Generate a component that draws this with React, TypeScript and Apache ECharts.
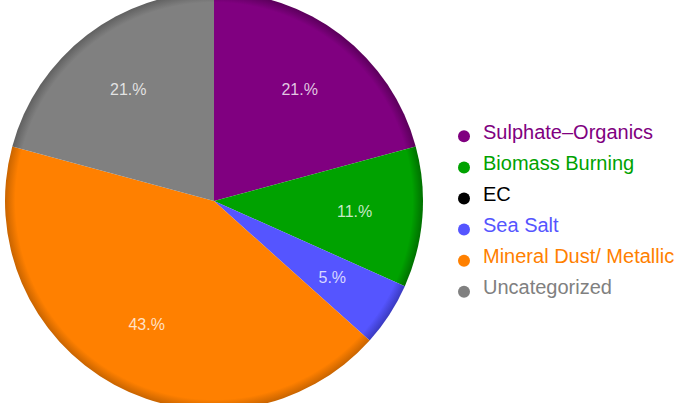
import React, { useEffect, useRef } from "react";
import * as echarts from "echarts";

const categories = [
  "Sulphate–Organics",
  "Biomass Burning",
  "EC",
  "Sea Salt",
  "Mineral Dust/ Metallic",
  "Uncategorized",
];
const values = [21, 11, 0, 5, 43, 21];
const colors = ["#800080", "#00a200", "#000000", "#5555ff", "#ff8000", "#808080"];
const edgeColors = ["#5a005a", "#007000", "#000000", "#3a3ac0", "#c86400", "#606060"];

const CX = 214;
const CY = 201;
const R = 209;

// circle (r=6, centre 6,15) inside a 20x21 box, so it sits lower than the text centre
const legendIcon =
  "path://M0,0L0,0M20,21L20,21M6,9A6,6,0,1,1,6,21A6,6,0,1,1,6,9Z";

export default function App() {
  const ref = useRef<HTMLDivElement>(null);
  useEffect(() => {
    if (!ref.current) return;
    const chart = echarts.init(ref.current, undefined, { renderer: "svg" });
    const mainData = categories.map((name, i) => ({
      name,
      value: values[i],
      itemStyle: {
        color: {
          type: "radial",
          x: CX,
          y: CY,
          r: R,
          global: true,
          colorStops: [
            { offset: 0, color: colors[i] },
            { offset: 0.95, color: colors[i] },
            { offset: 1, color: edgeColors[i] },
          ],
        },
      },
    }));
    const labelData = categories.map((name, i) => ({
      name,
      value: values[i],
      label: { show: values[i] > 0 },
    }));
    chart.setOption({
      animation: false,
      backgroundColor: "#ffffff",
      legend: {
        orient: "vertical",
        left: 458,
        top: 120.8,
        padding: 0,
        itemWidth: 20,
        itemHeight: 21,
        itemGap: 9.1,
        icon: legendIcon,
        selectedMode: false,
        data: categories.map((name, i) => ({
          name,
          itemStyle: { color: colors[i] },
          textStyle: { color: colors[i] },
        })),
        textStyle: {
          fontFamily: "Liberation Sans, Arial, sans-serif",
          fontSize: 20,
          lineHeight: 22,
        },
      },
      series: [
        {
          type: "pie",
          center: [CX, CY],
          radius: [0, R],
          clockwise: true,
          startAngle: 90,
          avoidLabelOverlap: false,
          label: { show: false },
          labelLine: { show: false },
          silent: true,
          data: mainData,
        },
        {
          type: "pie",
          center: [CX, CY],
          radius: [67, R],
          clockwise: true,
          startAngle: 90,
          avoidLabelOverlap: false,
          silent: true,
          itemStyle: { color: "rgba(0,0,0,0)", borderWidth: 0 },
          labelLine: { show: false },
          label: {
            show: true,
            position: "inside",
            formatter: (p: any) => p.value + ".%",
            color: "rgba(255,255,255,0.78)",
            fontFamily: "Liberation Sans, Arial, sans-serif",
            fontSize: 16,
          },
          data: labelData,
        },
      ],
    });
    return () => chart.dispose();
  }, []);
  return (
    <div
      ref={ref}
      style={{ position: "fixed", left: 0, top: 0, width: 677, height: 403 }}
    />
  );
}
